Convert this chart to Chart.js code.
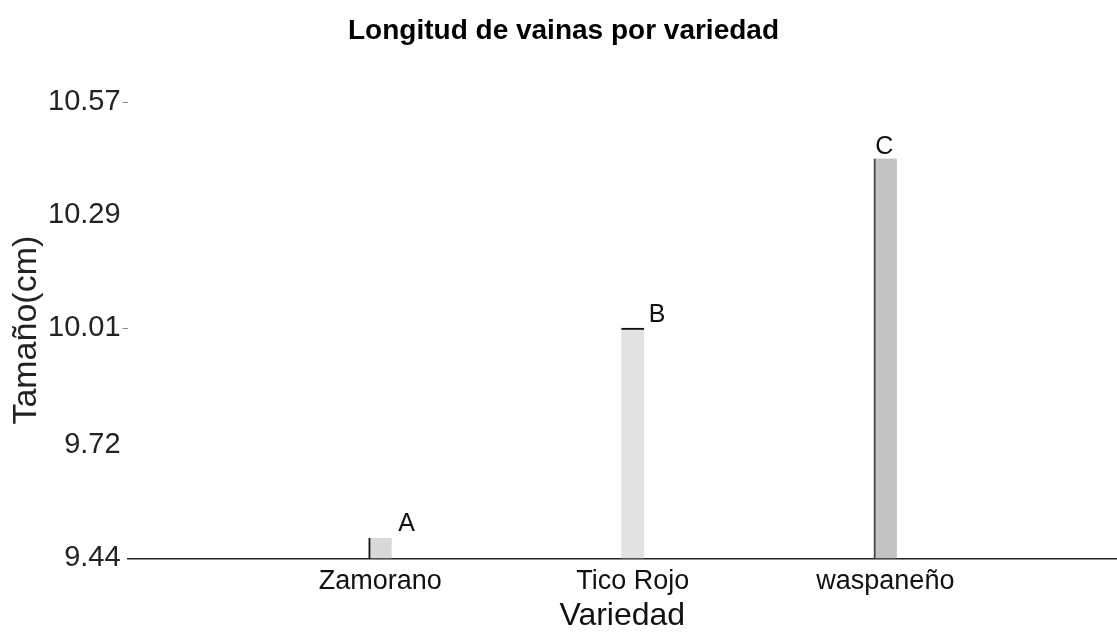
<!DOCTYPE html>
<html><head><meta charset="utf-8">
<script src="https://cdn.jsdelivr.net/npm/chart.js@4.4.1/dist/chart.umd.min.js"></script>
<style>html,body{margin:0;padding:0;background:#fff}#c{display:block}</style>
</head><body>
<canvas id="c" width="1117" height="637"></canvas>
<script>
const categories = ["Zamorano", "Tico Rojo", "waspaneño"];
const positions = [1, 2, 3];
const values = [9.49, 10.01, 10.43];
const letters = ["A", "B", "C"];
const yTicks = [9.44, 9.72, 10.01, 10.29, 10.57];

const barColors = ["#d9d9d9", "#e2e2e2", "#c3c3c3"];
const barBorders = [
  {left: 2, top: 0, right: 0, bottom: 0},
  {left: 0, top: 2, right: 0, bottom: 0},
  {left: 2, top: 0, right: 0, bottom: 0}
];
const barBorderColors = ["#111", "#111", "#444"];
const letterDx = [18, 16, -10];
const letterGap = [7, 6, 5];
const tickMarkColors = ["rgba(0,0,0,0)", "rgba(0,0,0,0)", "#888", "rgba(0,0,0,0)", "#888"];

const FONT = "'Liberation Sans', Arial, sans-serif";

const letterPlugin = {
  id: 'letters',
  afterDatasetsDraw(chart) {
    const ctx = chart.ctx;
    const meta = chart.getDatasetMeta(0);
    ctx.save();
    ctx.font = "25px " + FONT;
    ctx.fillStyle = "#111";
    ctx.textAlign = "left";
    ctx.textBaseline = "alphabetic";
    meta.data.forEach((bar, i) => {
      ctx.fillText(letters[i], bar.x + letterDx[i], bar.y - letterGap[i]);
    });
    ctx.restore();
  }
};

new Chart(document.getElementById('c'), {
  type: 'bar',
  data: {
    datasets: [{
      data: positions.map((p, i) => ({x: p, y: values[i]})),
      backgroundColor: barColors,
      borderColor: barBorderColors,
      borderWidth: (c) => barBorders[c.dataIndex],
      borderSkipped: false,
      barThickness: 23
    }]
  },
  plugins: [letterPlugin],
  options: {
    responsive: false,
    animation: false,
    layout: {padding: {left: 10, right: 0, top: 0, bottom: 5}},
    plugins: {
      legend: {display: false},
      tooltip: {enabled: false},
      title: {
        display: true,
        text: "Longitud de vainas por variedad",
        color: "#000",
        font: {family: FONT, size: 28, weight: 'bold', lineHeight: 1},
        padding: {top: 17, bottom: 57}
      }
    },
    scales: {
      x: {
        type: 'linear',
        offset: false,
        min: 0,
        max: 3.917,
        afterBuildTicks: (s) => { s.ticks = positions.map(v => ({value: v})); },
        ticks: {
          autoSkip: false,
          maxRotation: 0,
          color: "#111",
          font: {family: FONT, size: 27, lineHeight: 1.1},
          padding: 8,
          callback: (v) => { const i = positions.indexOf(v); return i >= 0 ? categories[i] : ''; }
        },
        grid: {display: false, drawTicks: false},
        border: {display: true, color: "#222", width: 1.5},
        title: {display: true, text: "Variedad", color: "#111", font: {family: FONT, size: 32, lineHeight: 1}, padding: {top: -4, bottom: 0}}
      },
      y: {
        type: 'linear',
        min: 9.44,
        max: 10.57,
        afterBuildTicks: (s) => { s.ticks = yTicks.map(v => ({value: v})); },
        ticks: {
          color: "#222",
          font: {family: FONT, size: 29},
          padding: 2,
          callback: (v) => v.toFixed(2)
        },
        grid: {display: true, drawOnChartArea: false, drawTicks: true, tickLength: 5, color: (c) => tickMarkColors[c.index] || "#888"},
        border: {display: false},
        title: {display: true, text: "Tamaño(cm)", color: "#222", font: {family: FONT, size: 34, lineHeight: 1}, padding: {top: 0, bottom: 2}}
      }
    }
  }
});
</script>
</body></html>
